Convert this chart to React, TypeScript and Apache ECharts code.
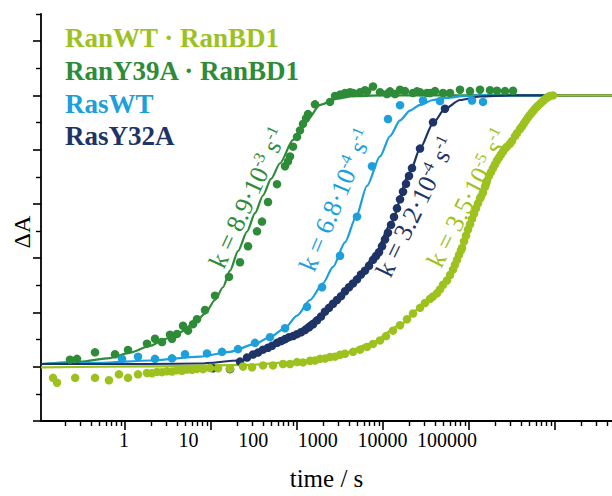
import React, { useEffect, useRef } from 'react';
import * as echarts from 'echarts';

const FONT = 'Liberation Serif, Times New Roman, serif';

const LIGHT_GREEN = '#9dc21f';
const DARK_GREEN = '#2e8b37';
const BLUE = '#1c9fdb';
const NAVY = '#1e3366';

// x range of the data (time / s, log scale)
const X_MIN = 0.0396;
const X_MAX = 1.415e6;
// tick labels of the original figure (log10 exponents and texts); they sit on their own ruler
const LABEL_AXIS_MIN = -1.285;
const LABEL_AXIS_MAX = 7.554;
const X_LABEL_EXPONENTS = [0, 1, 2, 3, 4, 5];
const X_TICK_LABELS = ['1', '10', '100', '1000', '10000', '100000'];
// tick ruler of the original figure (log10 units)
const TICK_AXIS_MIN = -0.977;
const TICK_AXIS_MAX = 5.663;
const X_MAJOR_TICK_EXP = [0, 1, 2, 3, 4, 5];
const X_MINOR_TICK_MULT = [2, 3, 4, 5, 6, 7, 8, 9];
const Y_LONG_TICKS = [0, 2, 4, 6, 8, 10, 12, 14];
const Y_SHORT_TICKS = [1, 3, 5, 7, 9, 11, 13, 15];

const SERIES_NAMES = ['RanWT · RanBD1', 'RanY39A · RanBD1', 'RasWT', 'RasY32A'];

// RanWT·RanBD1 measured points [t (s), ΔA]
const ranWtPoints: [number, number][] = [
  [0.0571, 1.59], [0.0645, 1.41], [0.112, 1.59], [0.205, 1.59], [0.314, 1.5], [0.426, 1.72], [0.561, 1.59],
  [0.76, 1.72], [1.0, 1.77], [1.165, 1.76], [1.356, 1.81], [1.579, 1.8], [1.839, 1.83], [2.141, 1.82],
  [2.494, 1.87], [2.904, 1.85], [3.382, 1.9], [3.938, 1.89], [4.585, 1.92], [5.505, 1.91], [6.813, 1.95],
  [8.694, 1.94], [12.53, 1.93], [18.62, 2.01], [24.48, 1.98], [34.22, 2.05], [46.42, 2.05], [62.93, 2.1],
  [77.9, 2.1], [96.4, 2.17], [115.7, 2.16], [143.3, 2.22], [166.8, 2.23], [194.3, 2.29], [226.2, 2.3],
  [263.5, 2.36], [306.8, 2.37], [357.3, 2.44], [415.9, 2.48], [530.8, 2.55], [657, 2.63], [813, 2.73],
  [976, 2.84], [1208, 2.97], [1450, 3.13], [1795, 3.33], [2222, 3.53], [2749, 3.75], [3300, 3.96],
  [4084, 4.17], [4756, 4.35], [5539, 4.5], [6070, 4.59], [6855, 4.71], [7512, 4.85], [8228, 5.02],
  [9297, 5.18], [10184, 5.38], [11160, 5.58], [11860, 5.76], [12605, 5.94], [13400, 6.12], [14230, 6.29],
  [14680, 6.38], [15600, 6.62], [16580, 6.83], [17620, 7.05], [18730, 7.25], [19910, 7.45], [21160, 7.64],
  [22480, 7.84], [23900, 8.02], [25400, 8.2], [26180, 8.27], [27830, 8.42], [29580, 8.63], [30490, 8.74],
  [31430, 8.85], [33400, 9.03], [35510, 9.17], [37730, 9.32], [40110, 9.46], [42620, 9.6], [45310, 9.71],
  [48130, 9.82], [51170, 9.93], [54370, 10.04], [57810, 10.11], [63330, 10.22], [67300, 10.32],
  [73750, 10.5], [78380, 10.61], [85880, 10.76], [91280, 10.86], [97000, 10.97], [103100, 11.08],
  [109600, 11.19], [116500, 11.28], [123800, 11.37], [131500, 11.46], [139800, 11.55], [148600, 11.62],
  [157900, 11.69], [167900, 11.76], [178400, 11.83], [189600, 11.89], [201500, 11.94], [214100, 11.98],
  [234700, 12.0],
];
const ranWtFit: [number, number][] = [
  [0.0396, 1.98], [1, 2.01], [23.04, 2.07], [105.6, 2.19], [357.3, 2.45], [890.7, 2.84], [2222, 3.53],
  [4084, 4.17], [7512, 4.84], [11160, 5.58], [16080, 6.7], [25400, 8.2], [33400, 9.03], [46700, 9.75],
  [63330, 10.22], [91280, 10.86], [116500, 11.28], [148600, 11.62], [201500, 11.92], [290400, 12.0],
  [1415000, 12.0],
];

// RanY39A·RanBD1
const ranY39aPoints: [number, number][] = [
  [0.0958, 2.26], [0.1186, 2.29], [0.2052, 2.53], [0.3773, 2.46], [0.5607, 2.62], [1.0, 2.85], [1.276, 3.03],
  [1.579, 2.91], [2.015, 3.18], [2.141, 3.03], [2.494, 3.21], [2.994, 3.51], [3.486, 3.33], [4.06, 3.57],
  [4.585, 3.75], [5.851, 4.09], [7.934, 4.62], [12.15, 5.31], [16.99, 5.85], [21.68, 6.44], [28.51, 6.99],
  [33.2, 7.35], [39.86, 8.07], [52.45, 8.73], [66.91, 9.39], [73.3, 9.57], [77.9, 9.75], [85.4, 10.11],
  [96.4, 10.47], [105.6, 10.71], [115.7, 10.95], [126.8, 11.15], [134.8, 11.31], [166.8, 11.67],
  [263.5, 11.76], [306.8, 11.98], [357.3, 12.03], [415.9, 12.09], [484.5, 12.12], [530.8, 12.09],
  [657, 12.12], [765, 12.19], [813, 12.15], [976, 12.33], [1208, 12.12], [1495, 12.05], [1638, 12.15],
  [1907, 12.05], [2222, 12.21], [2586, 12.16], [3300, 12.09], [3727, 12.15], [4084, 12.12], [5054, 12.09],
  [5539, 12.09], [6451, 12.16], [8228, 12.09], [10184, 12.09], [13810, 12.21], [18730, 12.16],
  [25400, 12.21], [34450, 12.19], [42620, 12.17], [54370, 12.16], [69390, 12.17],
];
const ranY39aFit: [number, number][] = [
  [0.0396, 2.1], [0.1299, 2.18], [0.324, 2.32], [0.5958, 2.52], [1.096, 2.77], [1.73, 3.02], [2.733, 3.27],
  [4.314, 3.63], [5.851, 3.96], [7.934, 4.46], [10.12, 4.93], [12.53, 5.54], [15.99, 6.26], [21.03, 6.98],
  [26.83, 7.66], [34.22, 8.31], [43.67, 8.92], [57.45, 9.5], [85.4, 10.36], [130.7, 11.08], [194.3, 11.65],
  [326.1, 11.88], [530.8, 11.97], [1208, 12.0], [1415000, 12.0],
];

// RasWT
const rasWtPoints: [number, number][] = [
  [0.467, 2.29], [0.76, 2.37], [1.276, 2.29], [2.141, 2.31], [3.182, 2.46], [6.218, 2.49], [9.82, 2.55],
  [15.99, 2.65], [26.83, 2.88], [42.36, 3.09], [66.91, 3.42], [130.7, 4.21], [206.5, 4.93], [357.3, 6.09],
  [599.5, 7.53], [946.6, 9.39], [1541, 11.13], [2222, 11.64], [4476, 11.81], [7512, 11.79], [19910, 11.81],
  [27830, 11.76],
];
const rasWtFit: [number, number][] = [
  [0.0396, 2.1], [0.2389, 2.14], [1.096, 2.23], [5.024, 2.37], [12.53, 2.55], [26.83, 2.84], [42.36, 3.09],
  [66.91, 3.42], [96.4, 3.88], [143.3, 4.46], [212.8, 5.07], [288.6, 5.68], [415.9, 6.58], [581.7, 7.52],
  [813.2, 8.67], [1208, 9.75], [1638, 10.5], [2222, 11.08], [3012, 11.44], [4084, 11.65], [6070, 11.83],
  [9297, 11.91], [16080, 11.98], [25400, 12.0], [1415000, 12.01],
];

// RasY32A
const rasY32aPoints: [number, number][] = [
  [7.464, 1.94], [12.53, 1.91], [16.99, 2.19], [21.03, 2.34], [25.24, 2.45], [29.39, 2.52], [34.22, 2.63],
  [39.86, 2.7], [45.02, 2.77], [52.45, 2.88], [59.23, 2.95], [66.91, 3.02], [75.56, 3.09], [85.4, 3.13],
  [96.4, 3.2], [108.9, 3.27], [123.0, 3.35], [139.0, 3.45], [157.0, 3.56], [177.4, 3.71], [200.3, 3.85],
  [226.2, 4.03], [255.6, 4.17], [288.6, 4.32], [326.1, 4.46], [368.4, 4.6], [415.9, 4.78], [469.9, 4.93],
  [530.8, 5.07], [599.5, 5.22], [677, 5.4], [765, 5.54], [864, 5.72], [976, 5.94], [1069, 6.08],
  [1172, 6.22], [1284, 6.44], [1407, 6.69], [1541, 6.94], [1689, 7.23], [1850, 7.52], [2027, 7.84],
  [2222, 8.17], [2434, 8.45], [2667, 8.74], [2922, 9.03], [3201, 9.32], [4084, 10.04], [6070, 11.01],
  [8747, 11.51],
];
const rasY32aFit: [number, number][] = [
  [0.0396, 2.1], [1.096, 2.1], [5.024, 2.12], [16.99, 2.23], [57.45, 2.84], [194.3, 3.81], [357.3, 4.53],
  [657, 5.36], [1038, 6.15], [1638, 7.23], [3012, 9.17], [4084, 10.04], [6070, 10.97], [8747, 11.51],
  [13810, 11.83], [25400, 11.96], [63330, 12.0], [1415000, 12.0],
];

const K_MANTISSAS = ['8.9', '6.8', '3.2', '3.5'];
const K_EXPONENTS = ['-3', '-4', '-4', '-5'];

const minorTicks: number[] = [];
for (let n = -1; n <= 5; n++) {
  for (const m of X_MINOR_TICK_MULT) {
    const v = n + Math.log10(m);
    if (v >= TICK_AXIS_MIN && v <= TICK_AXIS_MAX) minorTicks.push(v);
  }
}

const lineSeries = (name: string, data: [number, number][], color: string) => ({
  name,
  type: 'line',
  data,
  showSymbol: false,
  smooth: 0.25,
  smoothMonotone: 'x',
  lineStyle: { color, width: 2.2 },
  itemStyle: { color },
  z: 2,
});
const scatterSeries = (name: string, data: [number, number][], color: string) => ({
  name,
  type: 'scatter',
  data,
  symbolSize: 8.5,
  itemStyle: { color, opacity: 1 },
  z: 3,
});

const kLabel = (i: number, x: number, y: number, deg: number, color: string) => ({
  type: 'text',
  x,
  y,
  rotation: (deg * Math.PI) / 180,
  style: {
    text: `{n|k = ${K_MANTISSAS[i]}·10}{s|${K_EXPONENTS[i]}}{n| s}{s|-1}`,
    align: 'center',
    verticalAlign: 'middle',
    fill: color,
    fontFamily: FONT,
    fontSize: 26,
    rich: {
      n: { fontFamily: FONT, fontSize: 26, fill: color, lineHeight: 30, verticalAlign: 'middle' },
      s: { fontFamily: FONT, fontSize: 16, fill: color, verticalAlign: 'top' },
    },
  },
});

const legendText = (text: string, y: number, color: string) => ({
  type: 'text',
  x: 65,
  y,
  style: {
    text,
    fill: color,
    fontFamily: FONT,
    fontWeight: 'bold',
    fontSize: 27,
    align: 'left',
    verticalAlign: 'middle',
  },
});

const hiddenAxisBase = {
  axisLine: { show: false, onZero: false },
  splitLine: { show: false },
};

const option = {
  animation: false,
  backgroundColor: '#ffffff',
  grid: { left: 41, right: 0, top: 14, bottom: 65, containLabel: false },
  xAxis: [
    {
      type: 'log',
      logBase: 10,
      min: X_MIN,
      max: X_MAX,
      position: 'bottom',
      axisLine: { show: true, onZero: false, lineStyle: { color: '#000', width: 1.8 } },
      axisTick: { show: false },
      axisLabel: { show: false },
      splitLine: { show: false },
      minorTick: { show: false },
      name: 'time / s',
      nameLocation: 'middle',
      nameGap: 45,
      nameTextStyle: { fontFamily: FONT, fontSize: 25, color: '#000' },
    },
    {
      type: 'value',
      min: LABEL_AXIS_MIN,
      max: LABEL_AXIS_MAX,
      position: 'bottom',
      ...hiddenAxisBase,
      axisTick: { show: false },
      axisLabel: {
        show: true,
        customValues: X_LABEL_EXPONENTS,
        formatter: (v: number) => {
          const idx = X_LABEL_EXPONENTS.indexOf(Math.round(v));
          return idx >= 0 ? X_TICK_LABELS[idx] : '';
        },
        fontFamily: FONT,
        fontSize: 20,
        color: '#000',
        margin: 9,
      },
    },
    {
      type: 'value',
      min: TICK_AXIS_MIN,
      max: TICK_AXIS_MAX,
      position: 'bottom',
      ...hiddenAxisBase,
      axisLabel: { show: false },
      axisTick: { show: true, customValues: X_MAJOR_TICK_EXP, length: 9, lineStyle: { color: '#000', width: 1.6 } },
    },
    {
      type: 'value',
      min: TICK_AXIS_MIN,
      max: TICK_AXIS_MAX,
      position: 'bottom',
      ...hiddenAxisBase,
      axisLabel: { show: false },
      axisTick: { show: true, customValues: minorTicks, length: 5, lineStyle: { color: '#000', width: 1.4 } },
    },
  ],
  yAxis: [
    {
      type: 'value',
      min: 0,
      max: 15,
      position: 'left',
      axisLine: { show: true, onZero: false, lineStyle: { color: '#000', width: 1.8 } },
      axisTick: { show: true, customValues: Y_LONG_TICKS, length: 8, lineStyle: { color: '#000', width: 1.6 } },
      axisLabel: { show: false },
      splitLine: { show: false },
    },
    {
      type: 'value',
      min: 0,
      max: 15,
      position: 'left',
      ...hiddenAxisBase,
      axisLabel: { show: false },
      axisTick: { show: true, customValues: Y_SHORT_TICKS, length: 5, lineStyle: { color: '#000', width: 1.4 } },
    },
  ],
  series: [
    lineSeries(SERIES_NAMES[1], ranY39aFit, DARK_GREEN),
    lineSeries(SERIES_NAMES[2], rasWtFit, BLUE),
    lineSeries(SERIES_NAMES[3], rasY32aFit, NAVY),
    lineSeries(SERIES_NAMES[0], ranWtFit, LIGHT_GREEN),
    scatterSeries(SERIES_NAMES[1], ranY39aPoints, DARK_GREEN),
    scatterSeries(SERIES_NAMES[2], rasWtPoints, BLUE),
    scatterSeries(SERIES_NAMES[3], rasY32aPoints, NAVY),
    scatterSeries(SERIES_NAMES[0], ranWtPoints, LIGHT_GREEN),
  ],
  graphic: [
    {
      type: 'text',
      x: 22,
      y: 232,
      rotation: Math.PI / 2,
      style: { text: 'ΔA', fill: '#000', fontFamily: FONT, fontSize: 24, align: 'center', verticalAlign: 'middle' },
    },
    legendText(SERIES_NAMES[0], 38, LIGHT_GREEN),
    legendText(SERIES_NAMES[1], 71, DARK_GREEN),
    legendText(SERIES_NAMES[2], 104, BLUE),
    legendText(SERIES_NAMES[3], 136, NAVY),
    kLabel(0, 248, 198, 65, DARK_GREEN),
    kLabel(1, 336, 200, 67, BLUE),
    kLabel(2, 416, 207, 64, NAVY),
    kLabel(3, 468, 198, 63, LIGHT_GREEN),
  ],
};

export default function App() {
  const ref = useRef<HTMLDivElement>(null);
  useEffect(() => {
    if (!ref.current) return;
    const chart = echarts.init(ref.current, null, { renderer: 'svg' });
    chart.setOption(option as any);
    return () => {
      chart.dispose();
    };
  }, []);
  return (
    <div
      ref={ref}
      style={{ position: 'absolute', left: 0, top: 0, width: 612, height: 496, background: '#fff' }}
    />
  );
}
